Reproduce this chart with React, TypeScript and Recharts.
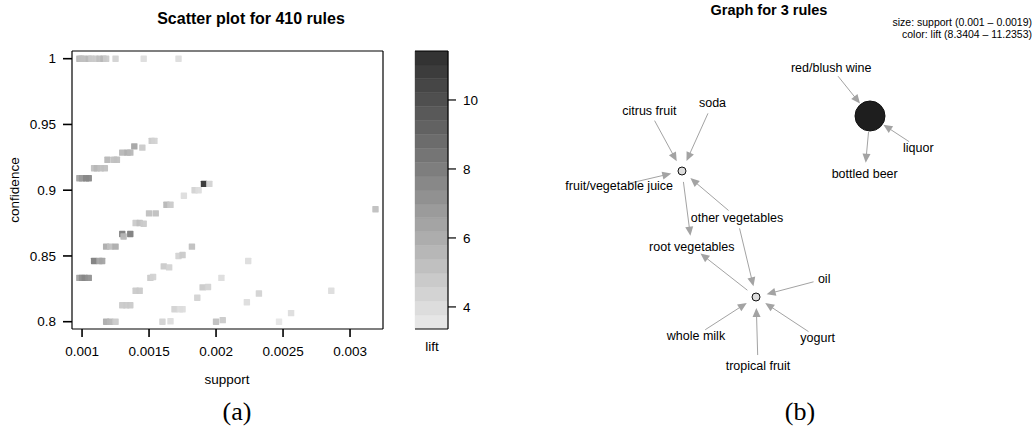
import React from 'react';
import {
  ScatterChart, Scatter, XAxis, YAxis, ReferenceLine, BarChart, Bar,
} from 'recharts';

// ---------- (a) scatter plot data ----------
const SUPPORT = [
  0.00098, 0.000995, 0.00101, 0.00105, 0.00107, 0.0011, 0.00113, 0.00116, 0.00118, 0.00125, 0.00146, 0.00172,
  0.00098, 0.001, 0.00103, 0.00105, 0.00109, 0.00111, 0.00114, 0.00117, 0.00119, 0.00124, 0.00126,
  0.0013, 0.00134, 0.00136, 0.00139, 0.00145, 0.00152, 0.00154,
  0.00098, 0.001, 0.00102, 0.00105, 0.00109, 0.00113, 0.00115, 0.00118, 0.00121, 0.00125,
  0.0013, 0.00131, 0.00136, 0.0014, 0.00143, 0.00146, 0.0015, 0.00155, 0.00163, 0.00166,
  0.00176, 0.00184, 0.00187, 0.00191, 0.00195, 0.00319,
  0.00118, 0.00121, 0.00125, 0.0013, 0.00133, 0.00136, 0.0014, 0.00143, 0.00151, 0.00153,
  0.00161, 0.00165, 0.00172, 0.00175, 0.00182,
  0.0016, 0.00166, 0.00169, 0.00173, 0.00175, 0.00186, 0.0019, 0.00194, 0.00204,
  0.002, 0.00205, 0.00224, 0.00223, 0.00232, 0.00247, 0.00256, 0.00286,
];
const CONFIDENCE = [
  1, 1, 1, 1, 1, 1, 1, 1, 1, 1, 1, 1,
  0.9091, 0.9091, 0.9091, 0.9091, 0.9167, 0.9167, 0.9167, 0.9167, 0.9231, 0.9231, 0.9231,
  0.9286, 0.9286, 0.9286, 0.9333, 0.9324, 0.9375, 0.9375,
  0.8333, 0.8333, 0.8333, 0.8333, 0.8462, 0.8462, 0.8462, 0.8571, 0.8571, 0.8571,
  0.8667, 0.8648, 0.8667, 0.875, 0.875, 0.8745, 0.8824, 0.8824, 0.8889, 0.8889,
  0.8958, 0.9, 0.9, 0.9048, 0.9048, 0.8855,
  0.8, 0.8, 0.8, 0.8125, 0.8125, 0.8125, 0.8235, 0.8235, 0.8333, 0.834,
  0.8421, 0.8413, 0.85, 0.8507, 0.8571,
  0.8, 0.8003, 0.8095, 0.8095, 0.8095, 0.8182, 0.8261, 0.8264, 0.8333,
  0.8, 0.8012, 0.8462, 0.8148, 0.8214, 0.8, 0.8065, 0.8235,
];
const LIFT = [
  5.4, 5.0, 5.2, 5.6, 4.8, 4.6, 5.2, 5.5, 4.7, 4.4, 4.0, 4.0,
  6.2, 6.7, 7.7, 7.4, 5.2, 5.4, 5.2, 5.0, 5.5, 5.2, 5.1,
  5.5, 5.8, 5.4, 6.2, 4.7, 4.6, 4.5,
  6.5, 7.0, 7.4, 7.2, 7.8, 6.4, 6.2, 6.0, 5.2, 6.0,
  8.0, 5.7, 7.8, 4.9, 5.1, 4.7, 5.2, 5.0, 5.6, 4.8,
  4.1, 4.2, 4.1, 11.2, 4.4, 5.0,
  6.0, 5.5, 4.8, 4.7, 4.8, 4.6, 4.6, 4.9, 4.6, 4.2,
  4.7, 4.2, 4.5, 4.8, 5.2,
  4.2, 4.0, 4.5, 3.9, 3.8, 4.2, 4.8, 4.5, 3.9,
  5.0, 4.6, 3.8, 4.0, 4.2, 3.7, 3.8, 3.9,
];
const X_TICKS = [0.001, 0.0015, 0.002, 0.0025, 0.003];
const Y_TICKS = [0.8, 0.85, 0.9, 0.95, 1];
const LIFT_TICKS = [4, 6, 8, 10];
const X_DOMAIN = [0.000925, 0.003246];
const Y_DOMAIN = [0.79445, 1.00585];
const LIFT_DOMAIN = [3.36, 11.42];
const N_BANDS = 20;

// ---------- (b) graph data ----------
const RULE_IDS = ['r1', 'r2', 'r3'];
const RULE_X = [27.11, 43.56, 68.89];
const RULE_Y = [63.61, 28.61, 78.89];
const RULE_SUPPORT = [0.001, 0.001, 0.0019];
const RULE_LIFT = [8.3404, 8.3404, 11.2353];

const ITEM_NAMES = [
  'red/blush wine', 'citrus fruit', 'soda', 'fruit/vegetable juice', 'other vegetables',
  'root vegetables', 'oil', 'whole milk', 'yogurt', 'tropical fruit', 'liquor', 'bottled beer',
];
const ITEM_X = [60.27, 19.85, 33.89, 13.16, 39.33, 29.29, 58.71, 30.22, 57.27, 44.0, 79.62, 67.71];
const ITEM_Y = [92.31, 80.28, 82.41, 59.53, 50.65, 42.59, 33.61, 17.87, 17.31, 9.44, 70.09, 62.87];

// edges: from -> to
const EDGE_FROM = [
  'citrus fruit', 'soda', 'fruit/vegetable juice', 'other vegetables', 'r1',
  'other vegetables', 'oil', 'whole milk', 'tropical fruit', 'yogurt', 'r2',
  'red/blush wine', 'liquor', 'r3',
];
const EDGE_TO = [
  'r1', 'r1', 'r1', 'r1', 'root vegetables',
  'r2', 'r2', 'r2', 'r2', 'r2', 'root vegetables',
  'r3', 'r3', 'bottled beer',
];
const SIZE_RANGE = [0.001, 0.0019];
const COLOR_RANGE = [8.3404, 11.2353];

// ---------- helpers ----------
const grey = (v: number) => {
  const g = Math.round(v);
  return `rgb(${g},${g},${g})`;
};
const bandColor = (i: number) => grey(230 - (i / (N_BANDS - 1)) * (230 - 51));
const liftColor = (lift: number) => {
  const t = (lift - LIFT_DOMAIN[0]) / (LIFT_DOMAIN[1] - LIFT_DOMAIN[0]);
  const i = Math.max(0, Math.min(N_BANDS - 1, Math.floor(t * N_BANDS)));
  return bandColor(i);
};
const BAND_KEYS = Array.from({ length: N_BANDS }, (_, i) => `b${i}`);
const bandRow: Record<string, any> = { name: 'lift', base: LIFT_DOMAIN[0] };
BAND_KEYS.forEach((k) => { bandRow[k] = (LIFT_DOMAIN[1] - LIFT_DOMAIN[0]) / N_BANDS; });
const bandData = [bandRow];

const scatterData = SUPPORT.map((s, i) => ({ support: s, confidence: CONFIDENCE[i], lift: LIFT[i] }));

const ruleRadius = (s: number) => 4 + ((s - SIZE_RANGE[0]) / (SIZE_RANGE[1] - SIZE_RANGE[0])) * 11;
const ruleFill = (l: number) => grey(221 - ((l - COLOR_RANGE[0]) / (COLOR_RANGE[1] - COLOR_RANGE[0])) * (221 - 30));

const ruleData = RULE_IDS.map((id, i) => ({ id, x: RULE_X[i], y: RULE_Y[i], support: RULE_SUPPORT[i], lift: RULE_LIFT[i] }));
const itemData = ITEM_NAMES.map((name, i) => ({ name, x: ITEM_X[i], y: ITEM_Y[i] }));
const nodeOf = (id: string) => {
  const r = ruleData.find((d) => d.id === id);
  if (r) return { x: r.x, y: r.y, trim: Math.max(ruleRadius(r.support) + 1, 11) };
  const it = itemData.find((d) => d.name === id)!;
  return { x: it.x, y: it.y, trim: 11 };
};
const edges = EDGE_FROM.map((f, i) => ({ from: nodeOf(f), to: nodeOf(EDGE_TO[i]) }));

const EDGE_COLOR = '#a3a3a3';
const arrowShape = (trimStart: number, trimEnd: number) => (p: any) => {
  const { x1, y1, x2, y2 } = p;
  const dx = x2 - x1;
  const dy = y2 - y1;
  const L = Math.hypot(dx, dy) || 1;
  const ux = dx / L;
  const uy = dy / L;
  const sx = x1 + ux * trimStart;
  const sy = y1 + uy * trimStart;
  const ex = x2 - ux * trimEnd;
  const ey = y2 - uy * trimEnd;
  const hl = 9;
  const hw = 4;
  const bx = ex - ux * hl;
  const by = ey - uy * hl;
  const pts = `${ex},${ey} ${bx - uy * hw},${by + ux * hw} ${bx + uy * hw},${by - ux * hw}`;
  return (
    <g>
      <line x1={sx} y1={sy} x2={bx + ux} y2={by + uy} stroke={EDGE_COLOR} strokeWidth={1} />
      <polygon points={pts} fill={EDGE_COLOR} stroke="none" />
    </g>
  );
};

// tick marks outside the plot box, drawn from reference-line geometry
const TICK_LEN = 8;
const xTickMark = (p: any) => {
  const yb = Math.max(p.y1, p.y2);
  return <line x1={p.x1} x2={p.x1} y1={yb} y2={yb + TICK_LEN} stroke="#000" strokeWidth={1.6} />;
};
const yTickMark = (p: any) => {
  const xl = Math.min(p.x1, p.x2);
  return <line x1={xl - TICK_LEN - 1} x2={xl} y1={p.y1} y2={p.y1} stroke="#000" strokeWidth={1.6} />;
};

const FONT = '"Liberation Sans", Arial, Helvetica, sans-serif';

const Txt = ({ x, y, size, bold, anchor = 'middle', rotate, serif, children }: any) => {
  const tx = anchor === 'middle' ? '-50%' : anchor === 'end' ? '-100%' : '0%';
  return (
    <div
      style={{
        position: 'absolute', left: x, top: y, fontSize: size, fontWeight: bold ? 'bold' : 'normal',
        lineHeight: 1, whiteSpace: 'nowrap', color: '#000',
        fontFamily: serif ? '"Liberation Serif", "Times New Roman", serif' : FONT,
        transform: `translate(${tx}, -50%)${rotate ? ` rotate(${rotate}deg)` : ''}`,
        transformOrigin: 'center',
      }}
    >
      {children}
    </div>
  );
};

const TICK_FS = 13.5;
const tickStyle = { fontSize: TICK_FS, fill: '#000', fontFamily: FONT };
const BOX = { stroke: '#000', strokeWidth: 1.2 };
const TICKLINE = { stroke: '#000', strokeWidth: 1.2 };

export default function App() {
  return (
    <div style={{ position: 'absolute', left: 0, top: 0, width: 1036, height: 438, background: '#fff', fontFamily: FONT, overflow: 'hidden' }}>
      <svg width={0} height={0} style={{ position: 'absolute' }}>
        <defs>
          <filter id="soft" x="-50%" y="-50%" width="200%" height="200%">
            <feGaussianBlur stdDeviation="0.55" />
          </filter>
        </defs>
      </svg>

      {/* (a) scatter */}
      <div style={{ position: 'absolute', left: 0, top: 0 }}>
        <ScatterChart width={520} height={438} margin={{ top: 51, right: 137, bottom: 69, left: 12 }}>
          <XAxis
            type="number" dataKey="support" domain={X_DOMAIN} ticks={X_TICKS} allowDataOverflow
            height={40} tickSize={8} tickMargin={9} axisLine={BOX} stroke="#000"
            tickLine={false} tick={tickStyle} interval={0}
          />
          <YAxis
            type="number" dataKey="confidence" domain={Y_DOMAIN} ticks={Y_TICKS} allowDataOverflow
            width={60} tickSize={9} tickMargin={7} axisLine={BOX} stroke="#000"
            tickLine={false} tick={tickStyle} interval={0}
          />
          <ReferenceLine x={X_DOMAIN[1]} {...BOX} ifOverflow="visible" />
          <ReferenceLine y={Y_DOMAIN[1]} {...BOX} ifOverflow="visible" />
          {X_TICKS.map((t) => (
            <ReferenceLine key={`xt${t}`} x={t} ifOverflow="visible" shape={xTickMark} />
          ))}
          {Y_TICKS.map((t) => (
            <ReferenceLine key={`yt${t}`} y={t} ifOverflow="visible" shape={yTickMark} />
          ))}
          <Scatter
            data={scatterData} isAnimationActive={false}
            shape={(p: any) => (
              <rect x={p.cx - 3.2} y={p.cy - 3.2} width={6.4} height={6.4} rx={0.6}
                fill={liftColor(p.payload.lift)} fillOpacity={0.95} filter="url(#soft)" />
            )}
          />
        </ScatterChart>
      </div>

      {/* colour key */}
      <div style={{ position: 'absolute', left: 400, top: 0 }}>
        <BarChart width={120} height={438} data={bandData} margin={{ top: 51, right: 12, bottom: 109, left: 15 }}
          barCategoryGap={0} barGap={0}>
          <XAxis dataKey="name" type="category" hide />
          <YAxis
            yAxisId="k" orientation="right" type="number" domain={LIFT_DOMAIN} ticks={LIFT_TICKS}
            allowDataOverflow width={60} tickSize={8} tickMargin={7} axisLine={BOX} stroke="#000"
            tickLine={TICKLINE} tick={tickStyle} interval={0}
          />
          <YAxis
            yAxisId="kl" orientation="left" type="number" domain={LIFT_DOMAIN}
            allowDataOverflow width={0} tick={false} tickLine={false} axisLine={BOX}
          />
          <Bar yAxisId="k" dataKey="base" stackId="s" fill="none" isAnimationActive={false} />
          {BAND_KEYS.map((k, i) => (
            <Bar key={k} yAxisId="k" dataKey={k} stackId="s" fill={bandColor(i)} stroke={bandColor(i)} strokeWidth={0.4} isAnimationActive={false} />
          ))}
          <ReferenceLine yAxisId="k" y={LIFT_DOMAIN[0]} {...BOX} ifOverflow="visible" />
          <ReferenceLine yAxisId="k" y={LIFT_DOMAIN[1]} {...BOX} ifOverflow="visible" />
        </BarChart>
      </div>

      {/* (b) graph */}
      <div style={{ position: 'absolute', left: 520, top: 0 }}>
        <ScatterChart width={516} height={438} margin={{ top: 40, right: 26, bottom: 38, left: 40 }}>
          <XAxis type="number" dataKey="x" domain={[0, 100]} hide allowDataOverflow />
          <YAxis type="number" dataKey="y" domain={[0, 100]} hide allowDataOverflow />
          {edges.map((e, i) => (
            <ReferenceLine
              key={i}
              segment={[{ x: e.from.x, y: e.from.y }, { x: e.to.x, y: e.to.y }]}
              ifOverflow="visible"
              shape={arrowShape(e.from.trim, e.to.trim)}
            />
          ))}
          <Scatter
            data={itemData} isAnimationActive={false}
            shape={(p: any) => (
              <text x={p.cx} y={p.cy} textAnchor="middle" dominantBaseline="central" fontSize={12.5} fill="#000" fontFamily={FONT}>
                {p.payload.name}
              </text>
            )}
          />
          <Scatter
            data={ruleData} isAnimationActive={false}
            shape={(p: any) => (
              <circle cx={p.cx} cy={p.cy} r={ruleRadius(p.payload.support)} fill={ruleFill(p.payload.lift)} stroke="#111" strokeWidth={1} />
            )}
          />
        </ScatterChart>
      </div>

      {/* texts */}
      <Txt x={251} y={19} size={16} bold>Scatter plot for 410 rules</Txt>
      <Txt x={227} y={380} size={13.5}>support</Txt>
      <Txt x={15} y={190} size={13.5} rotate={-90}>confidence</Txt>
      <Txt x={432} y={347} size={13.5}>lift</Txt>
      <Txt x={237} y={412} size={26} serif>(a)</Txt>

      <Txt x={769} y={10} size={14.5} bold>Graph for 3 rules</Txt>
      <Txt x={1032} y={22} size={10.5} anchor="end">size: support (0.001 – 0.0019)</Txt>
      <Txt x={1032} y={33.5} size={10.5} anchor="end">color: lift (8.3404 – 11.2353)</Txt>
      <Txt x={800} y={412} size={26} serif>(b)</Txt>
    </div>
  );
}
